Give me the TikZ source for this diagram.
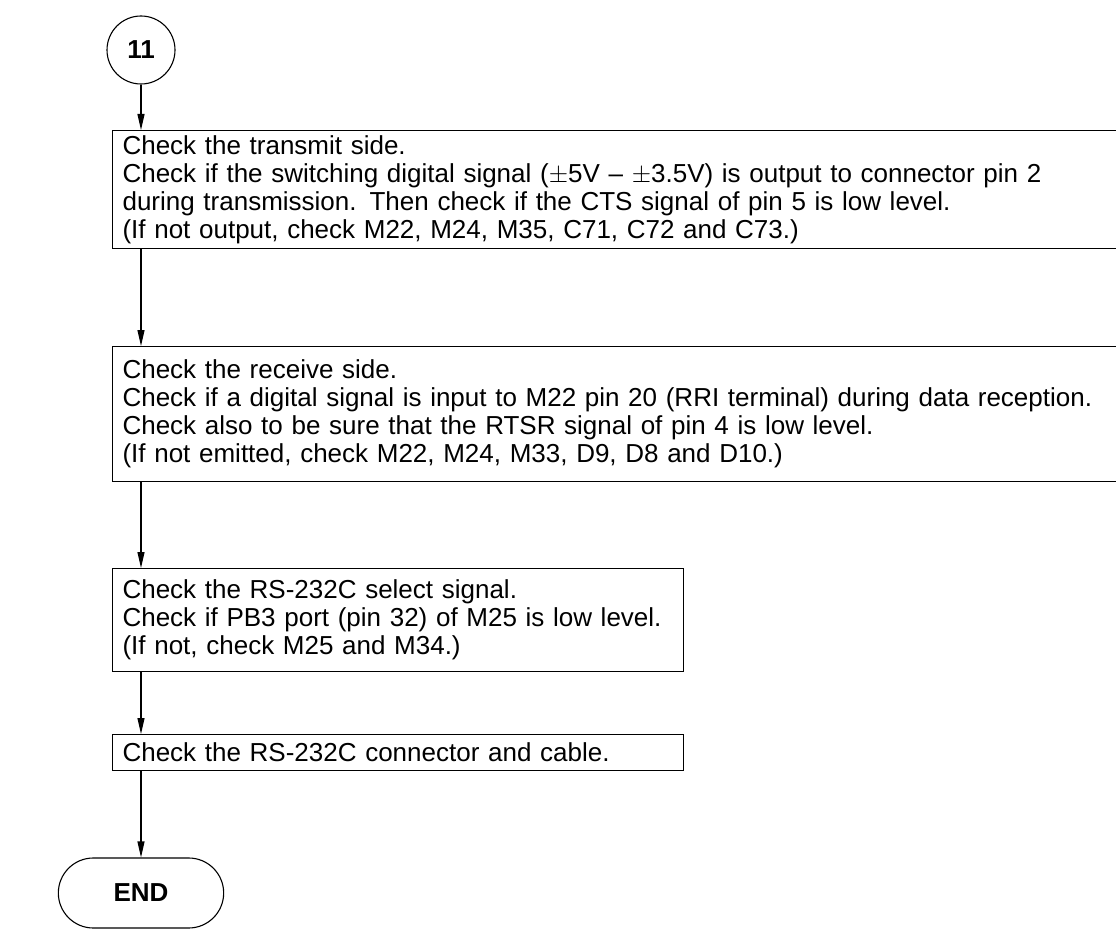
\documentclass[tikz,border=0pt]{standalone}
\usepackage{fontspec}
\setmainfont{Liberation Sans}
\usetikzlibrary{arrows.meta,shapes.misc}
\begin{document}
\begin{tikzpicture}[x=1pt,y=-1pt,
  txt/.style={font=\fontsize{26}{28}\selectfont},
  box/.style={draw, line width=1.1pt, anchor=north west, align=left, inner xsep=10pt, inner ysep=5pt, txt},
  widebox/.style={box, text width=990pt},
  narrowbox/.style={box, text width=551pt},
  flow/.style={-{Triangle[length=16pt,width=7pt]}, line width=1.1pt},
  term/.style={draw, line width=1.1pt, font=\bfseries\fontsize{26}{30}\selectfont}]
\clip (0,0) rectangle (1116,933);
\node[term, circle, minimum size=68pt] (c11) at (141,50) {11};
\node[widebox] (b1) at (112,130) {Check the transmit side.\\
Check if the switching digital signal ($\pm$5V -- $\pm$3.5V) is output to connector pin 2\\
during transmission. Then check if the CTS signal of pin 5 is low level.\\
(If not output, check M22, M24, M35, C71, C72 and C73.)};
\node[widebox, minimum height=135pt] (b2) at (112,346) {Check the receive side.\\
Check if a digital signal is input to M22 pin 20 (RRI terminal) during data reception.\\
Check also to be sure that the RTSR signal of pin 4 is low level.\\
(If not emitted, check M22, M24, M33, D9, D8 and D10.)};
\node[narrowbox, minimum height=103pt] (b3) at (112,568) {Check the RS-232C select signal.\\
Check if PB3 port (pin 32) of M25 is low level.\\
(If not, check M25 and M34.)};
\node[narrowbox, minimum height=36pt] (b4) at (112,734) {Check the RS-232C connector and cable.};
\node[term, rounded rectangle, minimum width=172pt, minimum height=70pt] (end) at (141,893) {END};
\draw[flow] (c11.south) -- (c11.south |- b1.north);
\draw[flow] (c11.south |- b1.south) -- (c11.south |- b2.north);
\draw[flow] (c11.south |- b2.south) -- (c11.south |- b3.north);
\draw[flow] (c11.south |- b3.south) -- (c11.south |- b4.north);
\draw[flow] (c11.south |- b4.south) -- (end.north);
\end{tikzpicture}
\end{document}
